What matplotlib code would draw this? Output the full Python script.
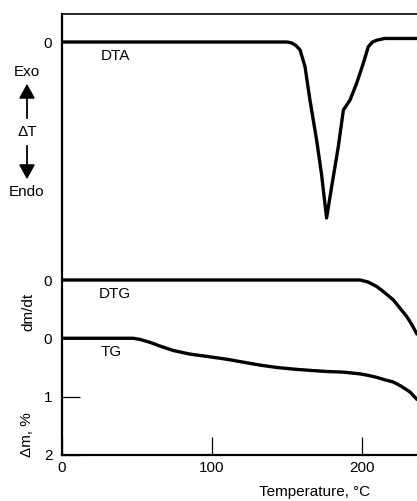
import matplotlib
matplotlib.use("Agg")
import matplotlib.pyplot as plt
from matplotlib.patches import FancyArrowPatch

plt.rcParams['font.family'] = ['Liberation Sans', 'DejaVu Sans']

# Temperature axis
x_ticks = [0, 100, 200]
x_label = "Temperature, °C"

# DTA trace (relative ΔT, endothermic peak normalised to -1)
dta_t = [0, 60, 120, 150, 153, 156, 158.7, 162, 165.3, 169.8, 173, 176.4,
         179.8, 184.2, 187.6, 192, 196.4, 200.9, 204.2, 207, 209.8, 215, 237]
dta_v = [0, 0, 0, 0, -0.005, -0.02, -0.045, -0.14, -0.33, -0.56, -0.75, -1.0,
         -0.82, -0.595, -0.386, -0.33, -0.235, -0.12, -0.027, 0.0, 0.01, 0.02, 0.02]

# DTG trace (relative dm/dt)
dtg_t = [0, 100, 190, 198.7, 204, 209.8, 215, 220.9, 225, 229.8, 233, 236.4, 237]
dtg_v = [0, 0, 0, 0, -0.04, -0.13, -0.25, -0.4, -0.55, -0.73, -0.88, -1.07, -1.1]

# TG trace (mass loss, %)
tg_t = [0, 30, 47.6, 52, 58.7, 66, 74.2, 85, 96.4, 110, 120.9, 132, 143,
        155, 165.3, 177, 187.6, 198.7, 204, 209.8, 215, 220.9, 226, 232, 236.4, 237]
tg_v = [0, 0, 0, 0.02, 0.07, 0.14, 0.21, 0.27, 0.31, 0.36, 0.41, 0.46, 0.50,
        0.53, 0.55, 0.57, 0.58, 0.61, 0.635, 0.67, 0.71, 0.75, 0.82, 0.92, 1.04, 1.06]
tg_ticks = [0, 1, 2]

W, H = 417, 501
fig = plt.figure(figsize=(W / 100, H / 100), dpi=100)

# frame in pixels
x0, x1 = 62, 417
ytop, ybot = 14, 455
rect = [x0 / W, 1 - ybot / H, (x1 - x0) / W, (ybot - ytop) / H]
xmax = (x1 - x0) / 1.5  # 1.5 px per °C
fs = 11


def yl(zero_px, unit_px, up=True):
    # y-limits so that value 0 sits at zero_px and one unit spans unit_px
    top = (zero_px - ytop) / unit_px
    bot = (ybot - zero_px) / unit_px
    return (-bot, top) if up else (bot, -top)


lw = 2.4

# TG axes carries the frame
ax = fig.add_axes(rect)
ax.set_xlim(0, xmax)
ax.set_ylim(*yl(339, 58.5, up=False))
ax.plot(tg_t, tg_v, color='black', lw=lw, solid_capstyle='butt')
ax.spines['right'].set_visible(False)
ax.spines['left'].set_linewidth(1.6)
ax.spines['bottom'].set_linewidth(1.6)
ax.spines['top'].set_linewidth(1.2)
ax.set_yticks(tg_ticks)
ax.set_yticklabels([str(v) for v in tg_ticks], fontsize=fs)
ax.tick_params(axis='y', direction='in', length=13, width=0.9, pad=7)
ax.set_xticks(x_ticks)
ax.set_xticklabels([str(v) for v in x_ticks], fontsize=fs)
ax.tick_params(axis='x', direction='in', length=13, width=0.9, pad=4)
ax.set_xlabel(x_label, fontsize=fs)
ax.xaxis.set_label_coords((315 - x0) / (x1 - x0), -(492 - ybot) / (ybot - ytop),
                          transform=ax.transAxes)
ax.xaxis.get_label().set_va('center')
ax.text(25.5, 0.24, "TG", fontsize=fs, va='center', ha='left')

# DTA axes
ax2 = fig.add_axes(rect, sharex=ax)
ax2.patch.set_visible(False)
ax2.set_ylim(*yl(42, 176, up=True))
ax2.plot(dta_t, dta_v, color='black', lw=lw, solid_capstyle='butt')
for s in ax2.spines.values():
    s.set_visible(False)
ax2.set_yticks([0])
ax2.set_yticklabels(["0"], fontsize=fs)
ax2.tick_params(axis='y', length=0, pad=7)
ax2.tick_params(axis='x', bottom=False, labelbottom=False)
ax2.text(25.5, -0.08, "DTA", fontsize=fs, va='center', ha='left')

# DTG axes
ax3 = fig.add_axes(rect, sharex=ax)
ax3.patch.set_visible(False)
ax3.set_ylim(*yl(280, 50, up=True))
ax3.plot(dtg_t, dtg_v, color='black', lw=lw, solid_capstyle='butt')
for s in ax3.spines.values():
    s.set_visible(False)
ax3.set_yticks([0])
ax3.set_yticklabels(["0"], fontsize=fs)
ax3.tick_params(axis='y', length=0, pad=7)
ax3.tick_params(axis='x', bottom=False, labelbottom=False)
ax3.text(24.5, -0.27, "DTG", fontsize=fs, va='center', ha='left')


def fx(px):
    return px / W


def fy(py):
    return 1 - py / H


# side annotations
fig.text(fx(27), fy(72), "Exo", fontsize=fs, ha='center', va='center')
fig.text(fx(27), fy(132), "ΔT", fontsize=fs, ha='center', va='center')
fig.text(fx(26), fy(192), "Endo", fontsize=fs, ha='center', va='center')
for ya, yb in [(121, 81), (143, 182)]:
    fig.patches.append(FancyArrowPatch((fx(27), fy(ya)), (fx(27), fy(yb)),
                                       transform=fig.transFigure,
                                       arrowstyle='-|>,head_length=4,head_width=2.2',
                                       lw=1.3, color='black', mutation_scale=2.2))
fig.text(fx(28), fy(312), "dm/dt", fontsize=fs, ha='center', va='center', rotation=90)
fig.text(fx(27), fy(435), "Δm, %", fontsize=fs, ha='center', va='center', rotation=90)

fig.savefig("out.png", dpi=100)
